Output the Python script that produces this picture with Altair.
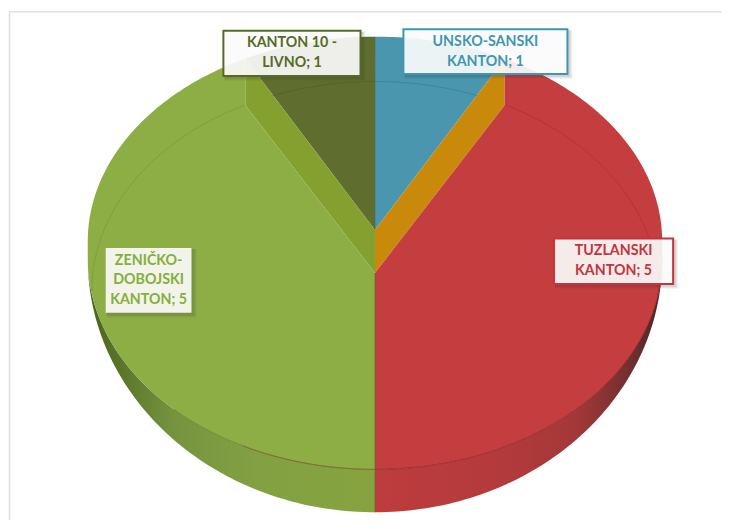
import math
import numpy as np
import pandas as pd
import altair as alt

# ---- chart values ----
categories = ["UNSKO-SANSKI KANTON", "TUZLANSKI KANTON", "ZENIČKO-DOBOJSKI KANTON", "KANTON 10 - LIVNO"]
values = [1, 5, 5, 1]
label_text = ["UNSKO-SANSKI\nKANTON; 1", "TUZLANSKI\nKANTON; 5", "ZENIČKO-\nDOBOJSKI\nKANTON; 5", "KANTON 10 -\nLIVNO; 1"]
label_color = ["#3E97B2", "#C5343A", "#86AE3A", "#556B24"]
label_x = [403.5, 554.5, 105, 223]
label_x2 = [568, 674, 191, 360.5]
label_y = [28.5, 238.5, 248, 30]
label_y2 = [73.5, 284, 313, 75.5]

# ---- drawing constants (pixel geometry of the 3-D look) ----
CX, RX = 375.0, 288.0
TOP_C, TOP_RY = 241.0, 205.0      # upper silhouette
FACE_C, FACE_RY = 259.0, 211.0    # front rim of the top face
BASE_C, BASE_RY = 259.0, 254.0    # lower silhouette
FAINT_C, FAINT_RY, FAINT_RX = 291.0, 210.0, 284.0
APEX_BACK, APEX_FRONT = 230.0, 273.0
K = 0.903


def arc(c, ry, a0, a1, rx=RX, n=80):
    t = np.radians(np.linspace(a0, a1, n))
    return list(zip(CX + rx * np.sin(t), c - ry * np.cos(t)))


def poly(pts):
    return pd.DataFrame({"i": range(len(pts)), "x": [p[0] for p in pts], "y": [p[1] for p in pts]})


small = 360.0 * values[0] / sum(values)
dx = RX * math.sin(math.radians(small)) * K
a_top = math.degrees(math.asin(dx / RX))
y_top = TOP_C - TOP_RY * math.cos(math.radians(a_top))
a_f = math.degrees(math.asin((dx + 1) / FAINT_RX))
y_corner = FAINT_C - FAINT_RY * math.cos(math.radians(a_f))
right_top = arc(TOP_C, TOP_RY, a_top, 90)
right_front = arc(FACE_C, FACE_RY, 90, 180)
left_front = arc(FACE_C, FACE_RY, 180, 270)
left_top = arc(TOP_C, TOP_RY, 270, 360 - a_top)

red = [(CX, APEX_FRONT), (CX + dx, y_corner)] + right_top + right_front
green = [(CX, APEX_FRONT), (CX, FACE_C + FACE_RY)] + left_front + left_top + [(CX - dx, y_corner)]
blue = [(CX, APEX_BACK)] + arc(TOP_C, TOP_RY, 0, a_top, n=30)
olive = [(CX, APEX_BACK)] + arc(TOP_C, TOP_RY, 360 - a_top, 360, n=30)
orange = [(CX, APEX_BACK), (CX + dx, y_top), (CX + dx, y_corner), (CX, APEX_FRONT)]
olive_wall = [(CX, APEX_BACK), (CX - dx, y_top), (CX - dx, y_corner), (CX, APEX_FRONT)]
red_side = arc(FACE_C, FACE_RY, 90, 180) + arc(BASE_C, BASE_RY, 180, 90)
green_side = arc(FACE_C, FACE_RY, 180, 270) + arc(BASE_C, BASE_RY, 270, 180)

xs = alt.Scale(domain=[8, 723], range=[0, 715])
ys = alt.Scale(domain=[8, 521], range=[0, 513])
X = alt.X("x:Q", scale=xs, axis=None)
Y = alt.Y("y:Q", scale=ys, axis=None)


def shape(pts, fill):
    return alt.Chart(poly(pts)).mark_line(fill=fill, strokeWidth=0, stroke="transparent").encode(
        x=X, y=Y, order="i:Q")


def curve(pts, color, opacity, width=1):
    return alt.Chart(poly(pts)).mark_line(color=color, opacity=opacity, strokeWidth=width).encode(
        x=X, y=Y, order="i:Q")


def grad(stops):
    return alt.Gradient(gradient="linear", x1=0, x2=1, y1=0, y2=0,
                        stops=[alt.GradientStop(offset=o, color=c) for o, c in stops])


layers = []
# frame
frame = pd.DataFrame({"x": [8.0], "x2": [723.0], "y": [11.0]})
layers.append(alt.Chart(frame).mark_rule(color="#E0E0E0", strokeWidth=1.5).encode(x=X, x2="x2:Q", y=Y))
frame2 = pd.DataFrame({"x": [8.5], "y": [11.0], "y2": [521.0]})
layers.append(alt.Chart(frame2).mark_rule(color="#E0E0E0", strokeWidth=1.5).encode(x=X, y=Y, y2="y2:Q"))

# walls
layers.append(shape(green_side, grad([(0, "#4A6320"), (0.1, "#587328"), (0.3, "#76943F"), (0.6, "#83A142"), (1, "#86A33F")])))
layers.append(shape(red_side, grad([(0, "#BE3C3E"), (0.45, "#B33A3C"), (0.7, "#A33838"), (0.9, "#6E2E2E"), (1, "#4A2525")])))
# back wedges and cut walls
layers.append(shape(blue, "#4A96AE"))
layers.append(shape(olive, "#5F6E2F"))
layers.append(shape(orange, "#C98A0B"))
layers.append(shape(olive_wall, "#84A02F"))
# faces
layers.append(shape(red, "#C43D3F"))
layers.append(shape(green, "#8DAD45"))

# faint rim
fa = math.degrees(math.asin(103 / FAINT_RX))
layers.append(curve(arc(FAINT_C, FAINT_RY, -fa, fa, rx=FAINT_RX), "#1E3A2A", 0.2))
layers.append(curve(arc(FAINT_C, FAINT_RY, a_f, 90, rx=FAINT_RX), "#7A1C1E", 0.25))
layers.append(curve(arc(FAINT_C, FAINT_RY, 270, 360 - a_f, rx=FAINT_RX), "#55702A", 0.25))
# seam lines
layers.append(curve(right_front, "#8E2226", 0.8))
layers.append(curve(left_front[:40], "#5E7A2A", 0.7))
layers.append(curve(left_front[:25], "#8E2226", 0.35))
centre = pd.DataFrame({"x": [CX], "y": [APEX_FRONT], "y2": [BASE_C + BASE_RY]})
layers.append(alt.Chart(centre).mark_rule(color="#5E6A2A", opacity=0.7, strokeWidth=1).encode(x=X, y=Y, y2="y2:Q"))
top_centre = pd.DataFrame({"x": [CX], "y": [TOP_C - TOP_RY], "y2": [APEX_BACK]})
layers.append(alt.Chart(top_centre).mark_rule(color="#3F6A5E", opacity=0.5, strokeWidth=1).encode(x=X, y=Y, y2="y2:Q"))

# labels
lab = pd.DataFrame({"category": categories, "text": label_text, "color": label_color,
                    "x": label_x, "x2": label_x2, "y": label_y, "y2": label_y2})
lab["xm"] = (lab.x + lab.x2) / 2
lab["ym"] = (lab.y + lab.y2) / 2
for off, op in [(5, 0.05), (4, 0.07), (3, 0.10)]:
    sh = lab.copy()
    for c, d in [("x", 1), ("x2", off), ("y", 1), ("y2", off)]:
        sh[c] = sh[c] + d
    layers.append(alt.Chart(sh).mark_rect(fill="#333333", opacity=op).encode(x=X, x2="x2:Q", y=Y, y2="y2:Q"))
LINE = 20
for i in range(len(categories)):
    row = lab.iloc[[i]]
    has_stroke = not categories[i].startswith("ZENI")
    layers.append(alt.Chart(row).mark_rect(fill="#FFFFFF", fillOpacity=0.9,
                                           stroke=label_color[i] if has_stroke else "#FFFFFF",
                                           strokeWidth=2 if has_stroke else 0).encode(
        x=X, x2="x2:Q", y=Y, y2="y2:Q"))
    n = label_text[i].count("\n")
    layers.append(alt.Chart(row).mark_text(font="Lato", fontWeight="bold", fontSize=14.3, lineBreak="\n", lineHeight=LINE,
                                           align="center", baseline="middle", dy=-n * LINE / 2,
                                           color=label_color[i]).encode(
        x=alt.X("xm:Q", scale=xs, axis=None), y=alt.Y("ym:Q", scale=ys, axis=None), text="text:N"))

chart = alt.layer(*layers).properties(width=715, height=513, padding=0, background="#FFFFFF").configure_view(stroke=None)
chart.save("out.html", embed_options={"renderer": "svg", "actions": False})
